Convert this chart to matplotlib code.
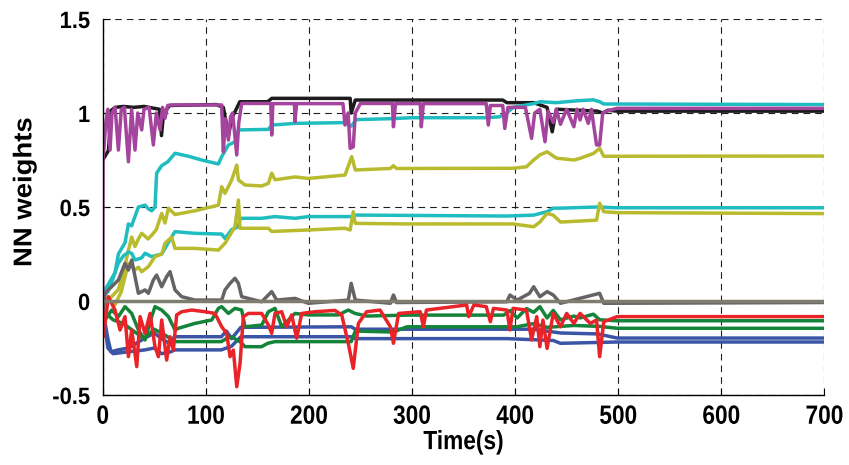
import matplotlib
matplotlib.use("Agg")
import matplotlib.pyplot as plt
from matplotlib import font_manager
from matplotlib.patheffects import AbstractPathEffect
from matplotlib.transforms import Affine2D

# Weight trajectories: (time in s, weight value) breakpoints for each NN weight
t_black = [0, 5.5, 8.7, 12, 20, 30, 40, 55, 57, 59, 65, 110, 117, 122, 125, 133, 160, 164, 240, 241, 245,
           388, 392, 418, 431, 436, 440, 480, 485, 490, 499, 700]
w_black = [0.75, 0.80, 1.016, 1.03, 1.035, 1.03, 1.035, 1.02, 0.88, 1.0, 1.04, 1.045, 1.03, 0.88, 0.97, 1.06,
           1.06, 1.078, 1.078, 1.0, 1.069, 1.069, 1.055, 1.055, 1.03, 0.90, 1.02, 1.01, 1.0, 1.015, 1.01, 1.01]

t_magenta = [0, 0.3, 3, 5, 7.1, 9, 12, 15.2, 18, 21, 24.9, 28, 31.3, 34, 37.8, 40, 45, 49.1, 52, 55.6, 58,
             60.4, 63, 66.9, 115.4, 117, 119, 121.9, 124, 126, 130, 132, 134.8, 163, 163.9, 165, 186, 186.5,
             188, 233, 235, 238, 240, 243, 245, 250, 281, 282, 284, 308, 309, 311, 372, 374, 376, 388, 390,
             393, 410, 416, 419, 424, 429, 432, 437, 440, 444, 450, 457, 460, 463, 466, 471, 474, 479, 482,
             485, 489, 499, 700]
w_magenta = [0.0, 0.75, 0.95, 1.02, 0.803, 1.0, 1.03, 0.803, 1.02, 1.03, 0.741, 1.02, 0.803, 1.0, 0.91, 1.02,
             1.03, 0.83, 1.0, 0.91, 1.03, 0.972, 1.04, 1.043, 1.043, 0.794, 0.97, 0.856, 0.98, 1.0, 0.777, 0.95,
             1.051, 1.051, 0.883, 1.05, 1.05, 0.954, 1.05, 1.05, 0.936, 1.0, 0.812, 0.82, 1.0, 1.051, 1.051,
             0.927, 1.05, 1.05, 0.927, 1.05, 1.05, 0.936, 1.04, 1.04, 0.918, 1.03, 1.03, 0.865, 1.0, 1.02,
             0.847, 1.01, 0.95, 1.02, 0.94, 1.02, 0.927, 1.02, 0.963, 1.02, 0.945, 1.02, 0.83, 0.83, 1.0, 1.01,
             1.025, 1.025]

t_cyan_a = [0, 2.2, 5.5, 11.9, 15.2, 21.6, 24.9, 28, 31.3, 34.6, 41, 44.3, 47.5, 50.7, 52.3, 57.2, 63, 70.1,
            83.1, 96, 112.2, 115.4, 121.9, 128.3, 131.6, 160.7, 163.9, 186.5, 235, 241, 246, 280, 300, 372,
            385, 392, 398, 418, 424, 440, 460, 476, 482, 486, 700]
w_cyan_a = [0.02, 0.06, 0.09, 0.15, 0.25, 0.31, 0.41, 0.40, 0.45, 0.50, 0.51, 0.49, 0.48, 0.50, 0.68, 0.72,
            0.74, 0.786, 0.77, 0.75, 0.729, 0.768, 0.83, 0.847, 0.91, 0.913, 0.936, 0.945, 0.949, 0.93, 0.965,
            0.97, 0.975, 0.975, 0.98, 1.0, 1.03, 1.05, 1.06, 1.055, 1.065, 1.07, 1.06, 1.048, 1.045]

t_olive_a = [0, 8, 15, 20, 24.9, 28.1, 31.3, 34.6, 37.8, 44, 47.5, 52, 57.2, 60.4, 63.7, 70.1, 89.5, 112.2,
             115.4, 118.6, 125.1, 130, 131.6, 138, 154.2, 160.7, 163.9, 167.1, 186.5, 199.4, 235, 241.5, 245,
             279, 282, 285, 398, 411, 418, 424, 431, 440, 457, 463, 476, 482, 486, 700]
w_olive_a = [0.0, 0.02, 0.06, 0.15, 0.27, 0.34, 0.29, 0.33, 0.36, 0.33, 0.35, 0.38, 0.466, 0.415, 0.494,
             0.46, 0.48, 0.51, 0.608, 0.573, 0.644, 0.723, 0.644, 0.617, 0.612, 0.626, 0.68, 0.645, 0.66,
             0.652, 0.67, 0.768, 0.697, 0.705, 0.72, 0.705, 0.706, 0.714, 0.75, 0.777, 0.794, 0.76, 0.75,
             0.759, 0.785, 0.812, 0.77, 0.771]

t_cyan_b = [0, 5, 10, 15, 20, 25, 28, 31.3, 37.8, 41, 47.5, 57.2, 66.9, 70.1, 89.5, 115.4, 118.6, 125.1,
            131.6, 133.2, 154.2, 167.1, 186.5, 199.4, 241.5, 243, 250, 392, 418, 431, 437, 444, 479, 499, 700]
w_cyan_b = [0.02, 0.05, 0.12, 0.20, 0.24, 0.26, 0.254, 0.218, 0.23, 0.254, 0.236, 0.25, 0.342, 0.369, 0.36,
            0.356, 0.333, 0.38, 0.395, 0.44, 0.44, 0.449, 0.44, 0.449, 0.449, 0.457, 0.457, 0.452, 0.457,
            0.475, 0.494, 0.494, 0.50, 0.496, 0.496]

t_olive_b = [0, 5.5, 11.9, 18, 24.9, 31.3, 34.6, 37.8, 44.3, 50.7, 57.2, 60.4, 66.9, 70.1, 89.5, 112.2,
             118.6, 128.3, 131.6, 133.2, 160.7, 163.9, 199.4, 235, 240, 243, 245, 295, 398, 418, 424, 431,
             437, 444, 479, 482, 486, 499, 700]
w_olive_b = [0.0, 0.005, -0.02, 0.05, 0.2, 0.165, 0.18, 0.156, 0.183, 0.236, 0.25, 0.307, 0.34, 0.28, 0.28,
             0.271, 0.307, 0.395, 0.537, 0.387, 0.387, 0.37, 0.378, 0.387, 0.378, 0.475, 0.413, 0.41, 0.41,
             0.395, 0.42, 0.466, 0.457, 0.42, 0.43, 0.52, 0.475, 0.47, 0.465]

t_gray = [0, 2.2, 11.9, 15.2, 21.6, 24.9, 28.1, 31.3, 34.6, 41, 44.3, 49.1, 52.3, 57.2, 62, 65.3, 70.1,
          76.6, 89.5, 115.4, 118.6, 123.5, 128.3, 131.6, 134.8, 154.2, 163.9, 168.7, 186.5, 199.4, 238.2,
          241, 245, 279, 282, 285, 392, 395, 402, 414, 418, 424, 431, 437, 444, 482, 486, 700]
w_gray = [-0.1, 0.041, 0.094, 0.112, 0.2, 0.165, 0.218, 0.13, 0.041, 0.059, 0.041, 0.112, 0.138, 0.076,
          0.13, 0.156, 0.059, 0.023, 0.005, 0.005, 0.059, 0.094, 0.121, 0.094, 0.023, -0.004, 0.05, 0.005,
          0.014, -0.012, 0.005, 0.094, 0.005, -0.012, 0.032, -0.008, -0.004, 0.032, 0.005, 0.041, 0.076,
          0.023, 0.05, 0.032, -0.012, 0.041, -0.012, -0.008]

t_flat = [0, 700]
w_flat = [0.0, 0.0]

t_green_a = [0, 2.2, 8.7, 15.2, 21.6, 28.1, 34.6, 41, 47.5, 50.7, 57.2, 63.7, 70.1, 73.4, 89.5, 105.7, 112.2,
             115.4, 121.9, 128.3, 134.8, 138, 154.2, 160.7, 167.1, 173.6, 186.5, 199.4, 228.5, 238.2, 244.7,
             256, 295, 389, 395, 402, 411, 418, 424, 431, 437, 444, 457, 463, 476, 482, 499, 700]
w_green_a = [-0.048, -0.101, -0.048, -0.083, -0.03, -0.066, -0.154, -0.207, -0.083, -0.03, -0.048, -0.083,
             -0.154, -0.145, -0.119, -0.101, -0.039, -0.03, -0.066, -0.039, -0.048, -0.137, -0.128, -0.057,
             -0.039, -0.137, -0.066, -0.074, -0.074, -0.048, -0.066, -0.08, -0.075, -0.075, -0.05, -0.09,
             -0.04, -0.06, -0.03, -0.09, -0.05, -0.1, -0.08, -0.09, -0.07, -0.1, -0.105, -0.105]

t_green_b = [0, 10, 20, 40, 50, 60, 70, 115, 120, 125, 134, 138, 154, 160, 167, 241, 245, 282, 295, 402,
             418, 431, 457, 482, 499, 700]
w_green_b = [-0.05, -0.1, -0.12, -0.2, -0.15, -0.18, -0.216, -0.216, -0.2, -0.19, -0.22, -0.243, -0.243,
             -0.225, -0.216, -0.216, -0.16, -0.165, -0.137, -0.137, -0.12, -0.14, -0.13, -0.135, -0.145, -0.145]

t_blue_a = [0, 5, 8, 15, 25, 40, 50, 57, 63, 70, 115, 120, 125, 134, 241, 245, 418, 431, 444, 480, 499, 700]
w_blue_a = [-0.05, -0.2, -0.27, -0.26, -0.25, -0.2, -0.17, -0.2, -0.22, -0.19, -0.19, -0.16, -0.2, -0.14,
            -0.137, -0.15, -0.15, -0.16, -0.17, -0.175, -0.197, -0.197]

t_blue_b = [0, 5, 10, 25, 41, 50, 57, 66, 70, 115, 125, 134, 241, 245, 392, 437, 444, 499, 700]
w_blue_b = [-0.05, -0.25, -0.28, -0.27, -0.26, -0.25, -0.28, -0.27, -0.26, -0.26, -0.24, -0.19, -0.19, -0.2,
            -0.2, -0.21, -0.225, -0.218, -0.218]

t_red = [0, 0.6, 5.5, 11.9, 16.8, 21.6, 24.9, 28.1, 33, 36.2, 41, 45.9, 50.7, 54, 57.2, 62, 65.3, 68.5, 71.7,
         76.6, 86.3, 99.2, 108.9, 115.4, 120.2, 123.5, 126.7, 130, 133.2, 136.4, 141.3, 154.2, 160.7, 163.9,
         167.1, 173.6, 178.4, 183.3, 188.1, 193, 205.9, 225.3, 231.8, 238.2, 243, 248, 256, 269, 279, 282,
         287, 308, 311, 314, 353, 355, 360, 372, 376, 379, 392, 395, 398, 411, 416, 421, 424, 427, 431, 437,
         444, 450, 457, 463, 473, 479, 482, 486, 499, 700]
w_red = [-0.05, -0.19, 0.023, -0.048, -0.154, -0.083, -0.296, -0.154, -0.349, -0.083, -0.172, -0.066,
         -0.243, -0.296, -0.101, -0.314, -0.19, -0.261, -0.074, -0.057, -0.048, -0.057, -0.066, -0.137,
         -0.172, -0.296, -0.261, -0.456, -0.332, -0.083, -0.066, -0.066, -0.128, -0.172, -0.066, -0.057,
         -0.137, -0.074, -0.198, -0.066, -0.057, -0.05, -0.074, -0.225, -0.358, -0.119, -0.057, -0.048,
         -0.137, -0.225, -0.066, -0.057, -0.137, -0.048, -0.021, -0.083, -0.021, -0.03, -0.11, -0.039,
         -0.048, -0.154, -0.039, -0.048, -0.207, -0.083, -0.243, -0.101, -0.252, -0.066, -0.137, -0.066,
         -0.119, -0.066, -0.119, -0.101, -0.296, -0.11, -0.083, -0.083]

series = [
    (t_black, w_black, "#1c1c1c"),
    (t_cyan_a, w_cyan_a, "#1fbdc0"),
    (t_olive_a, w_olive_a, "#b9bb2e"),
    (t_cyan_b, w_cyan_b, "#1fbdc0"),
    (t_olive_b, w_olive_b, "#b9bb2e"),
    (t_blue_b, w_blue_b, "#3a55a5"),
    (t_blue_a, w_blue_a, "#3a55a5"),
    (t_green_b, w_green_b, "#13843a"),
    (t_green_a, w_green_a, "#13843a"),
    (t_gray, w_gray, "#646466"),
    (t_red, w_red, "#ea2328"),
    (t_magenta, w_magenta, "#a4449c"),
    (t_flat, w_flat, "#7f7c70"),
]


class Squeeze(AbstractPathEffect):
    """Scale glyph outlines along the text baseline (narrow or widen a label)."""

    def __init__(self, sx, anchor="center"):
        super().__init__()
        self.sx = sx
        self.anchor = anchor

    def draw_path(self, renderer, gc, tpath, affine, rgbFace=None):
        ext = tpath.get_extents()
        if self.anchor == "right":
            cx = ext.x1
        elif self.anchor == "left":
            cx = ext.x0
        else:
            cx = 0.5 * (ext.x0 + ext.x1)
        pre = Affine2D().translate(-cx, 0).scale(self.sx, 1).translate(cx, 0)
        renderer.draw_path(gc, tpath, pre + affine, rgbFace)


def pick_family(*names):
    for name in names:
        try:
            font_manager.findfont(font_manager.FontProperties(family=name), fallback_to_default=False)
            return name
        except Exception:
            continue
    return "DejaVu Sans"


base_family = pick_family("Liberation Sans", "Arial")
plt.rcParams["font.family"] = [base_family, "DejaVu Sans"]
plt.rcParams["font.weight"] = "bold"

fig = plt.figure(figsize=(8.49, 4.65), dpi=100)
ax = fig.add_axes([0.121, 0.1505, 0.850, 0.8086])

for t, w, c in series:
    ax.plot(t, w, color=c, lw=2.5, solid_joinstyle="round")

ax.set_xlim(0, 700)
ax.set_ylim(-0.5, 1.5)
ax.set_xticks(range(0, 701, 100))
ax.set_yticks([-0.5, 0, 0.5, 1, 1.5])
ax.set_yticklabels(["-0.5", "0", "0.5", "1", "1.5"])
ax.grid(True, color="#202020", linestyle=(0, (6, 4.5)), linewidth=0.8)
ax.set_axisbelow(True)
for side in ("top", "right"):
    ax.spines[side].set_visible(False)
for side in ("left", "bottom"):
    ax.spines[side].set_linewidth(1.0)
ax.tick_params(direction="in", length=5, width=0.8)
ax.tick_params(axis="x", pad=7)
ax.tick_params(axis="y", pad=9)

for lab in ax.get_yticklabels():
    lab.set_fontweight("bold")
    lab.set_fontsize(17)
    lab.set_path_effects([Squeeze(0.93, "right")])
for lab in ax.get_xticklabels():
    lab.set_fontweight("bold")
    lab.set_fontsize(19)
    lab.set_path_effects([Squeeze(0.86, "center")])

xl = ax.set_xlabel("Time(s)", fontsize=19, fontweight="bold", labelpad=1)
xl.set_path_effects([Squeeze(0.86, "center")])
yl = ax.set_ylabel("NN weights", fontsize=18.5, fontweight="bold")
yl.set_path_effects([Squeeze(1.07, "center")])
ax.yaxis.set_label_coords(-0.092, 0.54)

fig.savefig("out.png", dpi=100)
